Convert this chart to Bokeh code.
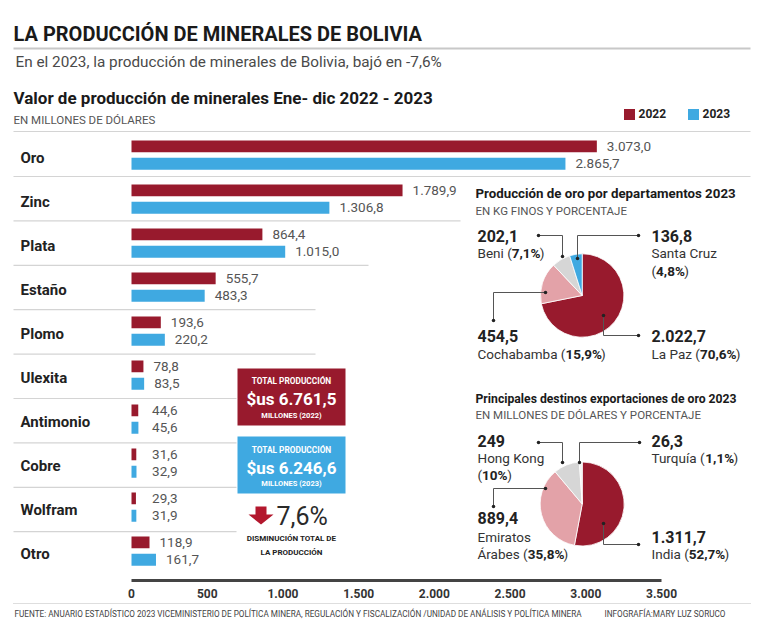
import numpy as np
from bokeh.plotting import figure
from bokeh.models import Range1d
from bokeh.core.properties import value
from bokeh.embed import file_html
from bokeh.resources import INLINE

# ---------------- DATA ----------------
categories = ["Oro", "Zinc", "Plata", "Estaño", "Plomo", "Ulexita",
              "Antimonio", "Cobre", "Wolfram", "Otro"]
val_2022 = [3073.0, 1789.9, 864.4, 555.7, 193.6, 78.8, 44.6, 31.6, 29.3, 118.9]
val_2023 = [2865.7, 1306.8, 1015.0, 483.3, 220.2, 83.5, 45.6, 32.9, 31.9, 161.7]
axis_ticks = [0, 500, 1000, 1500, 2000, 2500, 3000, 3500]
axis_tick_labels = ["0", "500", "1.000", "1.500", "2.000", "2.500", "3.000", "3.500"]
series_names = ["2022", "2023"]
total_2022 = "$us 6.761,5"
total_2023 = "$us 6.246,6"
decrease = "7,6%"

dept_names = ["La Paz", "Cochabamba", "Beni", "Santa Cruz"]
dept_kg = [2022.7, 454.5, 202.1, 136.8]
dept_kg_labels = ["2.022,7", "454,5", "202,1", "136,8"]
dept_pct = ["70,6%", "15,9%", "7,1%", "4,8%"]

dest_names = ["India", "Emiratos Árabes", "Hong Kong", "Turquía"]
dest_usd = [1311.7, 889.4, 249.0, 26.3]
dest_usd_labels = ["1.311,7", "889,4", "249", "26,3"]
dest_pct = ["52,7%", "35,8%", "10%", "1,1%"]

# ---------------- STYLE ----------------
RED = "#981a2d"
BLUE = "#3fa9e1"
PINK = "#e3a2a8"
GREY = "#d6d6d6"
DARK = "#222222"
MID = "#555555"
SANS = "Roboto"
NARROW = "Roboto"

W, H = 755, 622
OFF = 0


def fx(X):
    return X - OFF


def fy(Y):
    return -(Y - OFF)


def fmt(v):
    s = f"{v:,.1f}"
    return s.replace(",", "X").replace(".", ",").replace("X", ".")


p = figure(width=W, height=H, x_range=Range1d(0, W), y_range=Range1d(-H, 0),
           output_backend="svg", toolbar_location=None,
           x_axis_location=None, y_axis_location=None, min_border=0,
           outline_line_color=None, background_fill_color="white",
           border_fill_color="white")
p.grid.visible = False

# value scale for bars: 0 -> X=131, 3500 -> X=661
X0, X1 = 131, 661
k = (X1 - X0) / 3500.0
p.extra_x_ranges = {"val": Range1d(start=-fx(X0) / k, end=(W - fx(X0)) / k)}
# row scale: row i label centre at Y = 157 + 44*i, row coordinate = -i
ROW0, PITCH = 157, 44.0
p.extra_y_ranges = {"row": Range1d(start=(-H - fy(ROW0)) / PITCH,
                                   end=(0 - fy(ROW0)) / PITCH)}

n = len(categories)
rows = -np.arange(n, dtype=float)


def txt(x, y, t, size, color=DARK, font=SANS, style="normal", align="left",
        **kw):
    p.text(x=x, y=y, text=t, text_font=value(font), text_font_size=f"{size}px",
           text_font_style=style, text_color=color, text_align=align,
           text_baseline="middle", **kw)


# ---------- header ----------
txt([fx(13)], [fy(33)], ["LA PRODUCCIÓN DE MINERALES DE BOLIVIA"], 20,
    color="#1a1a1a", font=NARROW, style="bold")
p.segment(x0=[fx(13)], y0=[fy(48)], x1=[fx(750)], y1=[fy(48)],
          line_color="#c8c8c8", line_width=2)
txt([fx(15)], [fy(61)],
    ["En el 2023, la producción de minerales de Bolivia, bajó en -7,6%"], 15.3,
    color="#4a4a4a", font=NARROW)
txt([fx(13)], [fy(97)], ["Valor de producción de minerales Ene- dic 2022 - 2023"],
    17, color="#1a1a1a", style="bold")
txt([fx(13)], [fy(119)], ["EN MILLONES DE DÓLARES"], 11.5, color=MID, font=NARROW)

# legend
p.rect(x=[fx(629), fx(693)], y=[fy(114), fy(114)], width=11, height=11,
       width_units="screen", height_units="screen",
       fill_color=[RED, BLUE], line_color=None)
txt([fx(638), fx(702)], [fy(113), fy(113)], series_names, 12, style="bold")

# ---------- separators ----------
sep_y = [131] + [176 + 44.4 * j for j in range(n - 1)]
sep_x1 = [750, 750, 460, 368, 315, 315, 236, 236, 236, 236]
p.segment(x0=[fx(13)] * len(sep_y), y0=[fy(v) for v in sep_y],
          x1=[fx(v) for v in sep_x1], y1=[fy(v) for v in sep_y],
          line_color="#d4d4d4", line_width=1.2)

# ---------- bars ----------
off_r, h_r = 11.1 / PITCH, 11.7 / PITCH
off_b, h_b = -6.3 / PITCH, 12.0 / PITCH
p.hbar(y=rows + off_r, left=0, right=val_2022, height=h_r, fill_color=RED,
       line_color=None, x_range_name="val", y_range_name="row")
p.hbar(y=rows + off_b, left=0, right=val_2023, height=h_b, fill_color=BLUE,
       line_color=None, x_range_name="val", y_range_name="row")

# value labels
lab_min = 70
txt(list(np.maximum(val_2022, lab_min)), list(rows + off_r),
    [fmt(v) for v in val_2022], 13.5, color=MID, font=NARROW,
    x_offset=10, x_range_name="val", y_range_name="row")
txt(list(np.maximum(val_2023, lab_min)), list(rows + off_b),
    [fmt(v) for v in val_2023], 13.5, color=MID, font=NARROW,
    x_offset=10, x_range_name="val", y_range_name="row")

# category labels
txt([fx(20)] * n, list(rows), categories, 15, color=DARK, style="bold",
    y_range_name="row")

# x axis
p.segment(x0=[0], y0=[fy(580)], x1=[3500], y1=[fy(580)], line_color="#444444",
          line_width=3, x_range_name="val")
txt(axis_ticks, [fy(593)] * len(axis_ticks), axis_tick_labels, 12,
    color="#333333", font=NARROW, style="bold", align="center",
    x_range_name="val")

# footer
p.segment(x0=[fx(13)], y0=[fy(603)], x1=[fx(750)], y1=[fy(603)],
          line_color="#bdbdbd", line_width=1, line_dash="1 1")
txt([fx(14)], [fy(613)],
    ["FUENTE: ANUARIO ESTADÍSTICO 2023 VICEMINISTERIO DE POLÍTICA MINERA, "
     "REGULACIÓN Y FISCALIZACIÓN /UNIDAD DE ANÁLISIS Y POLÍTICA MINERA"],
    8.2, color="#444444", font=NARROW)
txt([fx(604)], [fy(613)], ["INFOGRAFÍA:MARY LUZ SORUCO"], 8.2, color="#444444",
    font=NARROW)

# ---------- total boxes ----------
BX0, BX1 = 237, 345
p.quad(left=[fx(BX0), fx(BX0)], right=[fx(BX1), fx(BX1)],
       top=[fy(368), fy(436)], bottom=[fy(425), fy(493)],
       fill_color=[RED, BLUE], line_color=None)
cx = fx((BX0 + BX1) / 2)
txt([cx, cx], [fy(380), fy(449)], ["TOTAL PRODUCCIÓN", "TOTAL PRODUCCIÓN"], 8.3,
    color="white", font=NARROW, style="bold", align="center")
txt([cx, cx], [fy(398), fy(467)], [total_2022, total_2023], 17,
    color="white", style="bold", align="center")
txt([cx, cx], [fy(415), fy(483)], ["MILLONES (2022)", "MILLONES (2023)"], 7.5,
    color="white", font=NARROW, style="bold", align="center")

# arrow + decrease
p.patch(x=[fx(v) for v in [255, 266, 266, 273, 260.5, 248, 255]],
        y=[fy(v) for v in [506, 506, 514, 514, 524, 514, 514]],
        fill_color="#b3172d", line_color=None)
txt([fx(276)], [fy(516)], [decrease], 25, color="#2a2a2a")
txt([fx(291), fx(291)], [fy(538), fy(552)], ["DISMINUCIÓN TOTAL DE", "LA PRODUCCIÓN"],
    8, color=DARK, font=NARROW, style="bold", align="center")

# ---------- pies ----------
W_REG = {'B': .623, 'e': .529, 'n': .552, 'i': .243, ' ': .248, '(': .342,
         ')': .349, 'S': .594, 'a': .544, 't': .327, 'C': .652, 'r': .338,
         'u': .551, 'z': .496, 'o': .570, 'c': .523, 'h': .551, 'b': .561,
         'm': .876, 'L': .538, 'P': .631, 'H': .712, 'K': .627, 'g': .561,
         'T': .611, 'q': .561, 'í': .243, 'Á': .652, 'd': .561, 'I': .272,
         's': .516, 'E': .568, 'k': .496, 'l': .243, 'A': .652, 'Z': .599}
W_BOLD = {',': .22, '%': .735, ')': .35}


def twidth(s, size, bold=False):
    tot = 0.0
    for ch in s:
        if ch.isdigit():
            tot += .562
        elif bold and ch in W_BOLD:
            tot += W_BOLD[ch]
        else:
            tot += W_REG.get(ch, .55)
    return tot * size


NAME_SIZE, NUM_SIZE = 13.5, 16


def mixed(X, Y, prefix, pct):
    """'prefix' regular + 'pct' bold + ')' regular"""
    x = fx(X)
    txt([x], [fy(Y)], [prefix], NAME_SIZE, color="#333333")
    x += twidth(prefix, NAME_SIZE)
    txt([x], [fy(Y)], [pct], NAME_SIZE, color="#222222", style="bold")
    x += twidth(pct, NAME_SIZE, bold=True)
    txt([x], [fy(Y)], [")"], NAME_SIZE, color="#333333")


def pie(cx_img, cy_img, r, vals, colors):
    v = np.asarray(vals, dtype=float)
    frac = v / v.sum()
    cum_end = np.cumsum(frac)
    cum_start = cum_end - frac
    start = np.pi / 2 - 2 * np.pi * cum_end
    end = np.pi / 2 - 2 * np.pi * cum_start
    p.wedge(x=[fx(cx_img)] * len(v), y=[fy(cy_img)] * len(v), radius=r,
            radius_units="screen", start_angle=list(start), end_angle=list(end),
            fill_color=colors, line_color="white", line_width=0.8)


def leaders(paths):
    xs = [[fx(a) for a, b in path] for path in paths]
    ys = [[fy(b) for a, b in path] for path in paths]
    p.multi_line(xs=xs, ys=ys, line_color="#555555", line_width=1)
    dx = [fx(path[0][0]) for path in paths] + [fx(path[-1][0]) for path in paths]
    dy = [fy(path[0][1]) for path in paths] + [fy(path[-1][1]) for path in paths]
    p.scatter(x=dx, y=dy, size=3.5, fill_color="#222222", line_color=None)


pie_colors = [RED, PINK, GREY, BLUE]

# pie 1 : departamentos
txt([fx(475)], [fy(193)], ["Producción de oro por departamentos 2023"], 13.3,
    color="#1a1a1a", style="bold")
txt([fx(475)], [fy(210)], ["EN KG FINOS Y PORCENTAJE"], 11.5, color=MID,
    font=NARROW)
pie(581.7, 295, 41.7, dept_kg, pie_colors)
leaders([[(538, 235), (562, 235), (562, 256)],
         [(638, 235), (577, 235), (577, 258)],
         [(493, 320), (493, 292), (545, 292)],
         [(638, 335), (603, 335), (603, 315)]])
# La Paz
txt([fx(651)], [fy(335)], [dept_kg_labels[0]], NUM_SIZE, style="bold")
mixed(651, 353, dept_names[0] + " (", dept_pct[0])
# Cochabamba
txt([fx(477)], [fy(335)], [dept_kg_labels[1]], NUM_SIZE, style="bold")
mixed(477, 353, dept_names[1] + " (", dept_pct[1])
# Beni
txt([fx(477)], [fy(235)], [dept_kg_labels[2]], NUM_SIZE, style="bold")
mixed(477, 252, dept_names[2] + " (", dept_pct[2])
# Santa Cruz
txt([fx(651)], [fy(235)], [dept_kg_labels[3]], NUM_SIZE, style="bold")
txt([fx(651)], [fy(252)], [dept_names[3]], NAME_SIZE, color="#333333")
mixed(651, 270, "(", dept_pct[3])

# pie 2 : destinos
txt([fx(475)], [fy(398)], ["Principales destinos exportaciones de oro 2023"],
    12.2, color="#1a1a1a", style="bold")
txt([fx(475)], [fy(414)], ["EN MILLONES DE DÓLARES Y PORCENTAJE"], 11.5,
    color=MID, font=NARROW)
pie(581.7, 503.5, 42, dest_usd, pie_colors[:3] + ["#f2f2f2"])
leaders([[(538, 442), (562, 442), (562, 462)],
         [(639, 442), (579, 442), (579, 462)],
         [(493, 506), (493, 488), (545, 488)],
         [(638, 544), (603, 544), (603, 523)]])
# India
txt([fx(651)], [fy(536)], [dest_usd_labels[0]], NUM_SIZE, style="bold")
mixed(651, 553, dest_names[0] + " (", dest_pct[0])
# Emiratos Árabes
txt([fx(477)], [fy(517)], [dest_usd_labels[1]], NUM_SIZE, style="bold")
em1, em2 = dest_names[1].split(" ")
txt([fx(477)], [fy(536)], [em1], NAME_SIZE, color="#333333")
mixed(477, 553, em2 + " (", dest_pct[1])
# Hong Kong
txt([fx(477)], [fy(440)], [dest_usd_labels[2]], NUM_SIZE, style="bold")
txt([fx(477)], [fy(457)], [dest_names[2]], NAME_SIZE, color="#333333")
mixed(477, 474, "(", dest_pct[2])
# Turquía
txt([fx(651)], [fy(440)], [dest_usd_labels[3]], NUM_SIZE, style="bold")
mixed(651, 457, dest_names[3] + " (", dest_pct[3])

open("out.html", "w").write(file_html(p, INLINE))
